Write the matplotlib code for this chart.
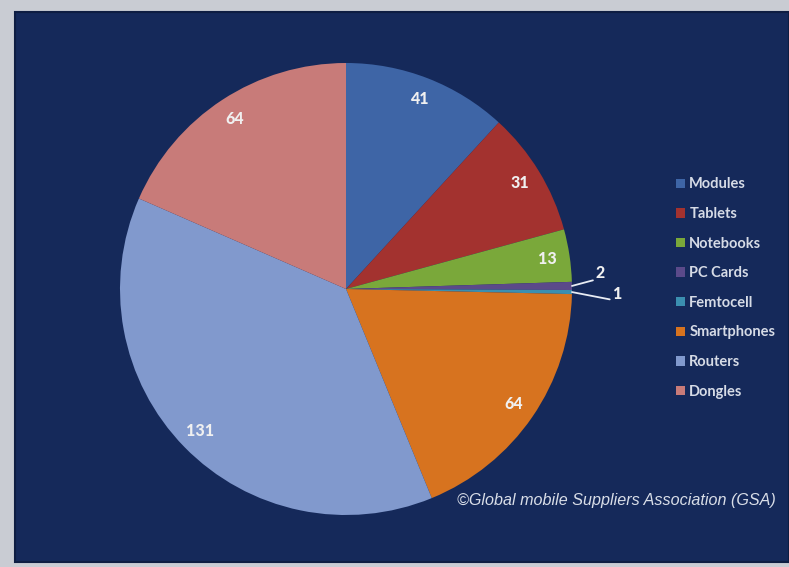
import matplotlib.pyplot as plt
from matplotlib.patches import Rectangle
import numpy as np

# Devices by type
categories = ['Modules', 'Tablets', 'Notebooks', 'PC Cards', 'Femtocell',
              'Smartphones', 'Routers', 'Dongles']
values = [41, 31, 13, 2, 1, 64, 131, 64]
colors = ['#3e65a6', '#a3322f', '#7aa83a', '#5b4a8a', '#3b8fb0',
          '#d7731f', '#8199cd', '#c87b79']

navy = '#15295a'

fig = plt.figure(figsize=(7.89, 5.67), dpi=100)
fig.patch.set_facecolor('#c9ccd3')

# dark panel behind the chart
bg = fig.add_axes([0, 0, 1, 1], zorder=0)
bg.axis('off')
bg.add_patch(Rectangle((15 / 789, 5 / 567), 1 - 15 / 789, (562 - 12) / 567,
                       transform=bg.transAxes, facecolor=navy,
                       edgecolor='#0e1d42', linewidth=1.5))

ax = fig.add_axes([120 / 789, 52 / 567, 452 / 789, 452 / 567], zorder=2)
ax.set_facecolor('none')

wedges, _ = ax.pie(values, colors=colors, startangle=90, counterclock=False,
                   radius=1, wedgeprops=dict(linewidth=0))
ax.set_xlim(-1, 1)
ax.set_ylim(-1, 1)
ax.set_aspect('equal')

label_font = dict(family='Lato', weight='black', size=11.5, color='#f0f0f0')

# small slices get leader lines, the rest sit inside their wedge
small_pos = {2: (1.125, 0.07), 1: (1.2, -0.02)}
for w, v in zip(wedges, values):
    mid = np.deg2rad((w.theta1 + w.theta2) / 2)
    if v in small_pos and v < 5:
        ax.annotate(str(v), xy=(np.cos(mid), np.sin(mid)), xytext=small_pos[v],
                    ha='center', va='center', annotation_clip=False,
                    arrowprops=dict(arrowstyle='-', color='#e8ecf4', lw=1.3,
                                    relpos=(0, 0.1), shrinkA=0, shrinkB=0),
                    **label_font)
    else:
        ax.text(0.9 * np.cos(mid), 0.9 * np.sin(mid), str(v),
                ha='center', va='center', **label_font)

leg = fig.legend(wedges, categories, loc='center left',
                 bbox_to_anchor=(0.857, 0.492), frameon=False,
                 handlelength=0.6, handleheight=0.6, handletextpad=0.3,
                 labelspacing=1.07, borderpad=0, borderaxespad=0,
                 prop=dict(family='Lato', weight='bold', size=10.5))
leg.set_zorder(3)
for t in leg.get_texts():
    t.set_color('#d6dbe6')

fig.text(457 / 789, 1 - 500 / 567,
         '\u00a9Global mobile Suppliers Association (GSA)',
         ha='left', va='center', family='Liberation Sans', style='italic',
         size=11.6, color='#d9dee8', zorder=3)

fig.savefig('out.png', dpi=100, facecolor=fig.get_facecolor())
